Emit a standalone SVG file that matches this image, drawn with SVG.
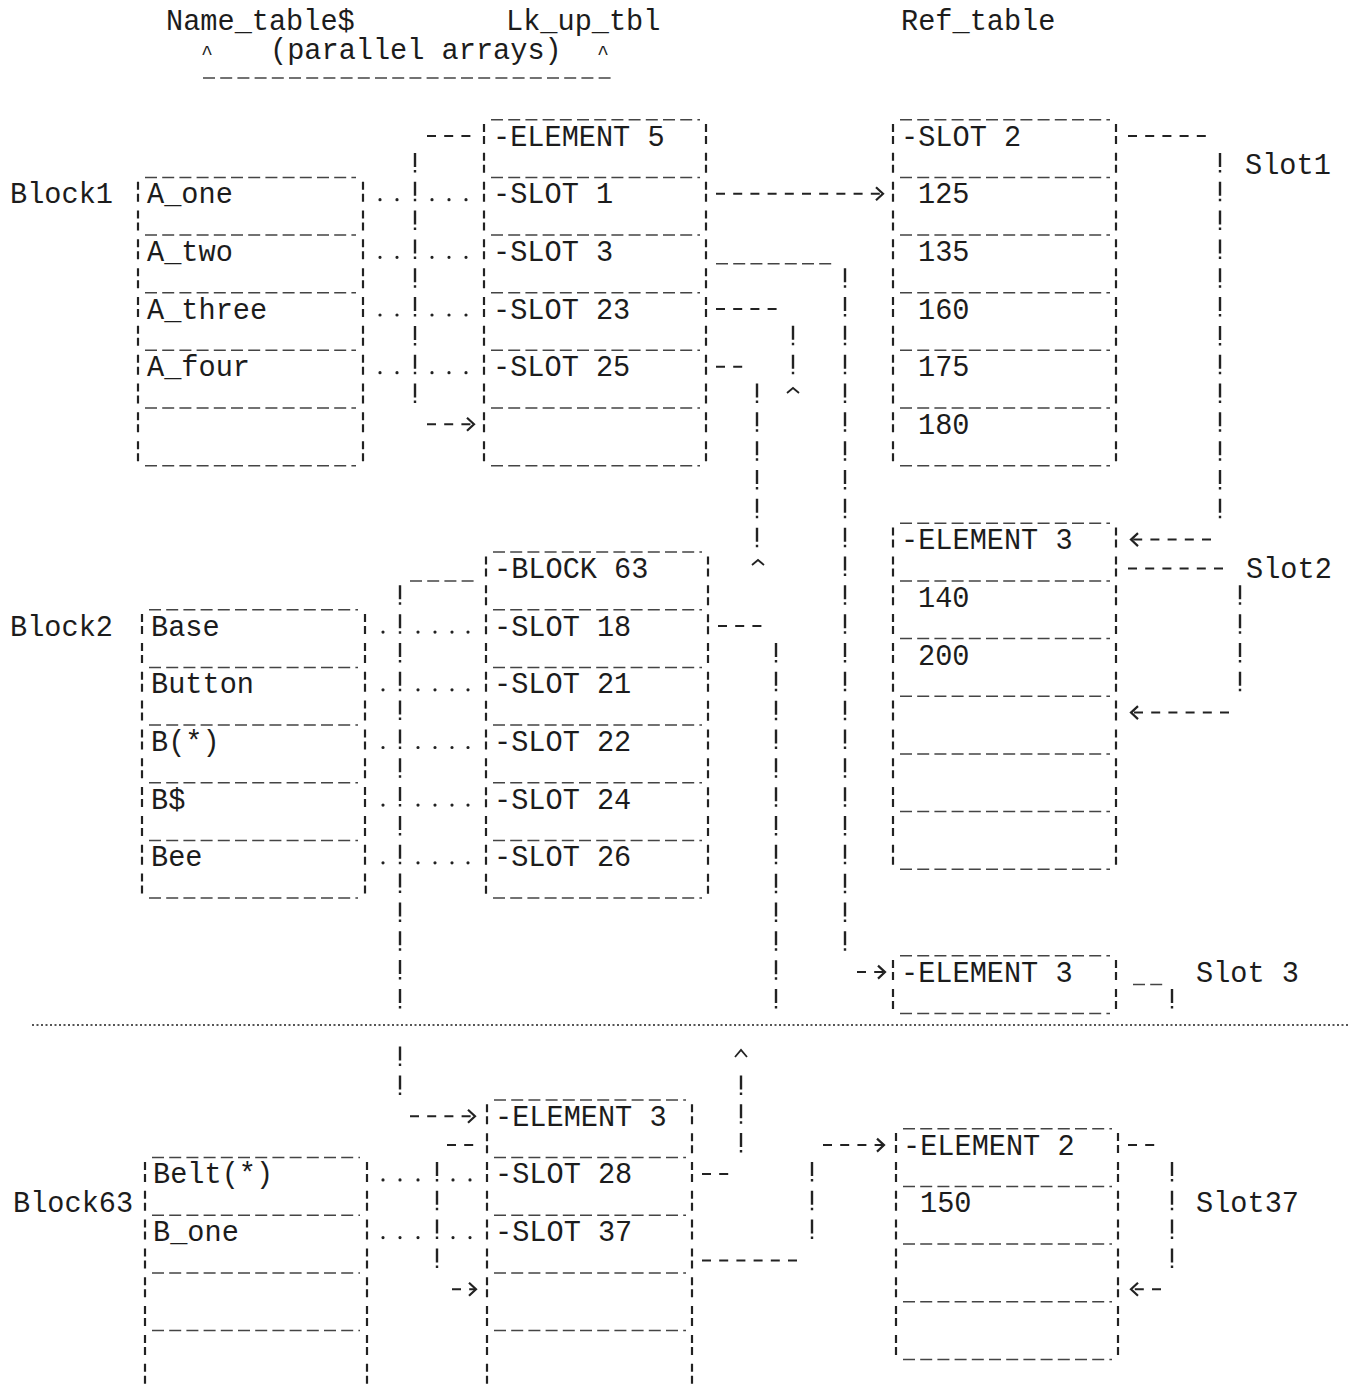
<svg xmlns="http://www.w3.org/2000/svg" width="1349" height="1385" viewBox="0 0 1349 1385">
<style>
.t{font-family:"Liberation Mono","DejaVu Sans Mono",monospace;font-size:28.6px;fill:#1c1c1c}
.c{font-family:"Liberation Mono","DejaVu Sans Mono",monospace;font-size:20px;fill:#1c1c1c}
.br{fill:none;stroke:#222;stroke-width:2.2;stroke-dasharray:8 4 8 8.83}
.ul{fill:none;stroke:#444;stroke-width:1.5;stroke-dasharray:12 5.2}
.hy{fill:none;stroke:#222;stroke-width:2;stroke-dasharray:9 8.2}
.ex{fill:none;stroke:#222;stroke-width:2.4;stroke-dasharray:14 3 2.5 9.33}
.dt{fill:none;stroke:#222;stroke-width:3.2;stroke-linecap:round}
.cr{fill:none;stroke:#222;stroke-width:1.8}
.sep{fill:none;stroke:#555;stroke-width:2;stroke-dasharray:2 2.5}
</style>
<defs>
<marker id="arr" markerUnits="userSpaceOnUse" markerWidth="12" markerHeight="16" viewBox="0 0 12 16" refX="9" refY="8" orient="auto"><path d="M2,1.5 L9,8 L2,14.5" fill="none" stroke="#222" stroke-width="2.2"/></marker>
</defs>
<rect width="1349" height="1385" fill="#fff"/>

<g id="headers">
<text class="t" x="166" y="30.2">Name_table$</text>
<text class="t" x="506" y="30.2">Lk_up_tbl</text>
<text class="t" x="901" y="30.2">Ref_table</text>
<text class="c" x="201" y="59">^</text>
<text class="t" x="270" y="59">(parallel arrays)</text>
<text class="c" x="597" y="59">^</text>
<path class="ul" d="M203,78 H612"/>
</g>

<g id="labels">
<text class="t" x="10" y="203.2">Block1</text>
<text class="t" x="10" y="635.6">Block2</text>
<text class="t" x="13" y="1212.2">Block63</text>
<text class="t" x="1245" y="174.4">Slot1</text>
<text class="t" x="1246" y="578">Slot2</text>
<text class="t" x="1196" y="981.6">Slot 3</text>
<text class="t" x="1196" y="1212.2">Slot37</text>
</g>

<g id="name-block1">
<path class="ul" d="M145,177.4 H356 M145,235 H356 M145,292.7 H356 M145,350.3 H356 M145,408 H356 M145,465.7 H356"/>
<path class="br" d="M138,181.7 V465.2 M363,181.7 V465.2"/>
<text class="t" x="147" y="203.2">A_one</text>
<text class="t" x="147" y="260.8">A_two</text>
<text class="t" x="147" y="318.5">A_three</text>
<text class="t" x="147" y="376.2">A_four</text>
</g>

<g id="lk-block1">
<path class="ul" d="M491,119.7 H700 M491,177.4 H700 M491,235 H700 M491,292.7 H700 M491,350.3 H700 M491,408 H700 M491,465.7 H700"/>
<path class="br" d="M484,124 V465.2 M706,124 V465.2"/>
<text class="t" x="493" y="145.5">-ELEMENT 5</text>
<text class="t" x="493" y="203.2">-SLOT 1</text>
<text class="t" x="493" y="260.8">-SLOT 3</text>
<text class="t" x="493" y="318.5">-SLOT 23</text>
<text class="t" x="493" y="376.2">-SLOT 25</text>
</g>

<g id="ref-slot2">
<path class="ul" d="M900,119.7 H1110 M900,177.4 H1110 M900,235 H1110 M900,292.7 H1110 M900,350.3 H1110 M900,408 H1110 M900,465.7 H1110"/>
<path class="br" d="M893,124 V465.2 M1116,124 V465.2"/>
<text class="t" x="901" y="145.5">-SLOT 2</text>
<text class="t" x="918" y="203.2">125</text>
<text class="t" x="918" y="260.8">135</text>
<text class="t" x="918" y="318.5">160</text>
<text class="t" x="918" y="376.2">175</text>
<text class="t" x="918" y="433.8">180</text>
</g>

<g id="ref-element3-a">
<path class="ul" d="M900,523.3 H1110 M900,581 H1110 M900,638.6 H1110 M900,696.3 H1110 M900,754 H1110 M900,811.6 H1110 M900,869.3 H1110"/>
<path class="br" d="M893,527.6 V868.8 M1116,527.6 V868.8"/>
<text class="t" x="901" y="549.1">-ELEMENT 3</text>
<text class="t" x="918" y="606.8">140</text>
<text class="t" x="918" y="664.5">200</text>
</g>

<g id="ref-element3-b">
<path class="ul" d="M900,955.8 H1110 M900,1013.4 H1110"/>
<path class="br" d="M893,960.1 V1012.9 M1116,960.1 V1012.9"/>
<text class="t" x="901" y="981.6">-ELEMENT 3</text>
</g>

<g id="name-block2">
<path class="ul" d="M149,609.8 H358 M149,667.5 H358 M149,725.1 H358 M149,782.8 H358 M149,840.4 H358 M149,898.1 H358"/>
<path class="br" d="M142,614.1 V897.6 M365,614.1 V897.6"/>
<text class="t" x="151" y="635.6">Base</text>
<text class="t" x="151" y="693.3">Button</text>
<text class="t" x="151" y="751">B(*)</text>
<text class="t" x="151" y="808.6">B$</text>
<text class="t" x="151" y="866.3">Bee</text>
</g>

<g id="lk-block2">
<path class="ul" d="M493,552.1 H702 M493,609.8 H702 M493,667.5 H702 M493,725.1 H702 M493,782.8 H702 M493,840.4 H702 M493,898.1 H702"/>
<path class="br" d="M486,556.5 V897.6 M708,556.5 V897.6"/>
<text class="t" x="494" y="578">-BLOCK 63</text>
<text class="t" x="494" y="635.6">-SLOT 18</text>
<text class="t" x="494" y="693.3">-SLOT 21</text>
<text class="t" x="494" y="751">-SLOT 22</text>
<text class="t" x="494" y="808.6">-SLOT 24</text>
<text class="t" x="494" y="866.3">-SLOT 26</text>
</g>

<g id="name-block63">
<path class="ul" d="M152,1157.6 H360 M152,1215.2 H360 M152,1272.9 H360 M152,1330.6 H360"/>
<path class="br" d="M145,1161.9 V1390 M367,1161.9 V1390"/>
<text class="t" x="153" y="1183.4">Belt(*)</text>
<text class="t" x="153" y="1241.1">B_one</text>
</g>

<g id="lk-block63">
<path class="ul" d="M494,1099.9 H686 M494,1157.6 H686 M494,1215.2 H686 M494,1272.9 H686 M494,1330.6 H686"/>
<path class="br" d="M487,1104.3 V1390 M692,1104.3 V1390"/>
<text class="t" x="495" y="1125.8">-ELEMENT 3</text>
<text class="t" x="495" y="1183.4">-SLOT 28</text>
<text class="t" x="495" y="1241.1">-SLOT 37</text>
</g>

<g id="ref-element2">
<path class="ul" d="M903,1128.8 H1112 M903,1186.4 H1112 M903,1244.1 H1112 M903,1301.7 H1112 M903,1359.4 H1112"/>
<path class="br" d="M896,1133.1 V1358.9 M1118,1133.1 V1358.9"/>
<text class="t" x="903" y="1154.6">-ELEMENT 2</text>
<text class="t" x="920" y="1212.2">150</text>
</g>

<path class="sep" d="M32,1025 H1349"/>

<g id="connectors">
<g id="leaders">
<path class="dt" d="M380,199.7h0.01 M397,199.7h0.01 M432,199.7h0.01 M449,199.7h0.01 M466,199.7h0.01 M380,257.3h0.01 M397,257.3h0.01 M432,257.3h0.01 M449,257.3h0.01 M466,257.3h0.01 M380,315h0.01 M397,315h0.01 M432,315h0.01 M449,315h0.01 M466,315h0.01 M380,372.7h0.01 M397,372.7h0.01 M432,372.7h0.01 M449,372.7h0.01 M466,372.7h0.01"/>
<path class="dt" d="M383,632.1h0.01 M418,632.1h0.01 M435,632.1h0.01 M452,632.1h0.01 M468,632.1h0.01 M383,689.8h0.01 M418,689.8h0.01 M435,689.8h0.01 M452,689.8h0.01 M468,689.8h0.01 M383,747.5h0.01 M418,747.5h0.01 M435,747.5h0.01 M452,747.5h0.01 M468,747.5h0.01 M383,805.1h0.01 M418,805.1h0.01 M435,805.1h0.01 M452,805.1h0.01 M468,805.1h0.01 M383,862.8h0.01 M418,862.8h0.01 M435,862.8h0.01 M452,862.8h0.01 M468,862.8h0.01"/>
<path class="dt" d="M383,1179.9h0.01 M400,1179.9h0.01 M418,1179.9h0.01 M453,1179.9h0.01 M470,1179.9h0.01 M383,1237.6h0.01 M400,1237.6h0.01 M418,1237.6h0.01 M453,1237.6h0.01 M470,1237.6h0.01"/>
</g>
<g id="c-element5-free">
<path class="hy" d="M427,136 H476"/>
<path class="ex" d="M415,152.9 V403.5"/>
<path class="hy" d="M427,424.3 H474" marker-end="url(#arr)"/>
</g>
<g id="c-slot1-125">
<path class="hy" d="M716,193.7 H883" marker-end="url(#arr)"/>
</g>
<g id="c-slot3-element3">
<path class="ul" d="M716,263.8 H832"/>
<path class="ex" d="M845,268.2 V951.3"/>
<path class="hy" d="M857,972.1 H885" marker-end="url(#arr)"/>
</g>
<g id="c-slot23">
<path class="hy" d="M716,309 H782"/>
<path class="ex" d="M793,325.8 V374.7"/>
<path class="cr" d="M787,393 L793,388 L799,393"/>
</g>
<g id="c-slot25">
<path class="hy" d="M716,366.7 H746"/>
<path class="ex" d="M757,383.5 V547.6"/>
<path class="cr" d="M752,565 L758,560 L764,565"/>
</g>
<g id="c-slot1-loop">
<path class="hy" d="M1128,136 H1211"/>
<path class="ex" d="M1220,152.9 V518.8"/>
<path class="hy" d="M1211,539.6 H1131" marker-end="url(#arr)"/>
</g>
<g id="c-slot2-loop">
<path class="hy" d="M1128,568.5 H1229"/>
<path class="ex" d="M1240,585.3 V691.8"/>
<path class="hy" d="M1229,712.6 H1131" marker-end="url(#arr)"/>
</g>
<g id="c-slot3-stub">
<path class="ul" d="M1133,984.6 H1163"/>
<path class="ex" d="M1172,988.9 V1009"/>
</g>
<g id="c-block63">
<path class="ul" d="M410,581 H476"/>
<path class="ex" d="M400,585.3 V1008.9"/>
<path class="ex" d="M400,1046.6 V1095.4"/>
<path class="hy" d="M410,1116.3 H475" marker-end="url(#arr)"/>
</g>
<g id="c-slot18-slot28">
<path class="hy" d="M718,626.1 H766"/>
<path class="ex" d="M776,643 V1008.9"/>
<path class="cr" d="M735,1057 L741,1050 L747,1057"/>
<path class="ex" d="M741,1075.4 V1153.1"/>
<path class="hy" d="M702,1173.9 H734"/>
</g>
<g id="c-element3-free">
<path class="hy" d="M447,1145.1 H478"/>
<path class="ex" d="M437,1161.9 V1268.4"/>
<path class="hy" d="M452,1289.2 H476" marker-end="url(#arr)"/>
</g>
<g id="c-slot37-element2">
<path class="hy" d="M702,1260.4 H801"/>
<path class="ex" d="M812,1161.9 V1239.6"/>
<path class="hy" d="M823,1145.1 H884" marker-end="url(#arr)"/>
</g>
<g id="c-slot37-loop">
<path class="hy" d="M1128,1145.1 H1161"/>
<path class="ex" d="M1172,1161.9 V1268.4"/>
<path class="hy" d="M1161,1289.2 H1131" marker-end="url(#arr)"/>
</g>
</g>
</svg>
